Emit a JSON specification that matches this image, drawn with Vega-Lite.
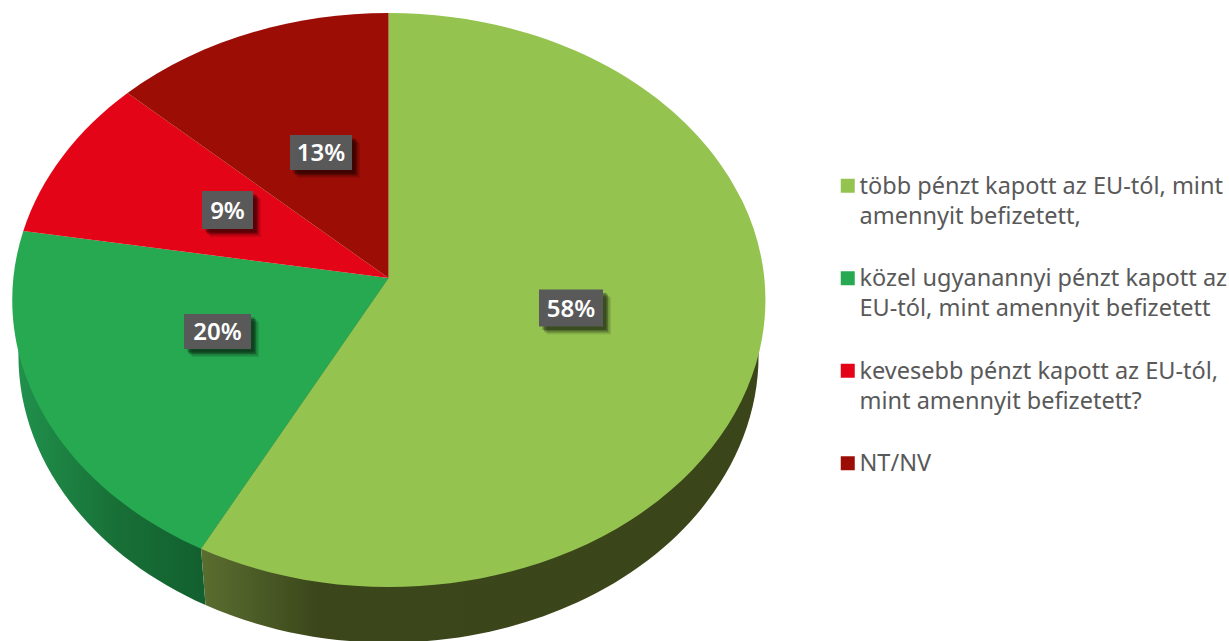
{
"$schema":"https://vega.github.io/schema/vega-lite/v6.json",
"width":1229,"height":641,"padding":0,"autosize":{"type":"none"},
"background":"white",
"view":{"stroke":null},
"datasets":{"answers":[
{"answer":"több pénzt kapott az EU-tól, mint|amennyit befizetett,","share":58,"label":"58%","centerX":0,"centerY":0,"labelX":182.5,"labelY":-8},
{"answer":"közel ugyanannyi pénzt kapott az|EU-tól, mint amennyit befizetett","share":20,"label":"20%","centerX":0,"centerY":0,"labelX":-171,"labelY":-31.5},
{"answer":"kevesebb pénzt kapott az EU-tól,|mint amennyit befizetett?","share":9,"label":"9%","centerX":0,"centerY":0,"labelX":-161,"labelY":90},
{"answer":"NT/NV","share":13,"label":"13%","centerX":0,"centerY":0,"labelX":-67.5,"labelY":147.5}
]},
"data":{"name":"answers"},
"resolve":{"scale":{"shape":"independent"}},
"layer":[
{"transform":[{"filter":"datum.share==20"}],
 "mark":{"type":"point","filled":true,"opacity":1,"size":4,"clip":false,"shape":"M-370,50 A370 287 0 0 0 -183,305 L-187.5,248 L0,-22 Z",
 "fill":{"gradient":"linear","x1":0,"x2":1,"y1":0,"y2":0,"stops":[{"offset":0,"color":"#20914c"},{"offset":0.27,"color":"#186f36"},{"offset":0.5,"color":"#12602f"},{"offset":1,"color":"#12602f"}]}},
 "encoding":{"x":{"field":"centerX","type":"quantitative","scale":{"domain":[-388.5,840.5],"zero":false,"nice":false},"axis":null},
 "y":{"field":"centerY","type":"quantitative","scale":{"domain":[-341,300],"zero":false,"nice":false},"axis":null}}},
{"transform":[{"filter":"datum.share==58"}],
 "mark":{"type":"point","filled":true,"opacity":1,"size":4,"clip":false,"shape":"M-187.5,248 L-183,305 A370 287 0 0 0 370,50 L0,-22 Z",
 "fill":{"gradient":"linear","x1":0,"x2":1,"y1":0,"y2":0,"stops":[{"offset":0,"color":"#5a6e30"},{"offset":0.21,"color":"#3b471b"},{"offset":1,"color":"#3a461a"}]}},
 "encoding":{"x":{"field":"centerX","type":"quantitative"},"y":{"field":"centerY","type":"quantitative"}}},
{"mark":{"type":"point","filled":true,"opacity":1,"size":4,"clip":false},
 "encoding":{"x":{"field":"centerX","type":"quantitative"},"y":{"field":"centerY","type":"quantitative"},
 "shape":{"field":"answer","type":"nominal","legend":null,"sort":null,"scale":{"domain":["több pénzt kapott az EU-tól, mint|amennyit befizetett,","közel ugyanannyi pénzt kapott az|EU-tól, mint amennyit befizetett","kevesebb pénzt kapott az EU-tól,|mint amennyit befizetett?","NT/NV"],"range":["M0,-22 L0,-287 A376.5 287 0 1 1 -187.5,248.7 Z","M0,-22 L-187.5,248.7 A376.5 287 0 0 1 -365.2,-69 Z","M0,-22 L-365.2,-69 A376.5 287 0 0 1 -261,-207 Z","M0,-22 L-261,-207 A376.5 287 0 0 1 0,-287 Z"]}},
 "color":{"field":"answer","type":"nominal","sort":null,"scale":{"domain":["több pénzt kapott az EU-tól, mint|amennyit befizetett,","közel ugyanannyi pénzt kapott az|EU-tól, mint amennyit befizetett","kevesebb pénzt kapott az EU-tól,|mint amennyit befizetett?","NT/NV"],"range":["#95C350","#26A950","#E30517","#9C0D05"]},
 "legend":{"title":null,"orient":"none","legendX":836,"legendY":174,"padding":0,"symbolType":"square","symbolSize":196,"symbolStrokeWidth":0,"symbolOpacity":1,"labelFont":"Noto Sans","labelFontSize":23.5,"labelColor":"#595959","labelOffset":0,"labelLimit":400,"rowPadding":37.5,"labelBaseline":"alphabetic","labelExpr":"split(datum.label,'|')","encode":{"labels":{"update":{"dy":{"value":8},"lineHeight":{"value":30}}}}}}}},
{"mark":{"type":"point","filled":true,"opacity":0.1,"size":4,"clip":false,"color":"black","xOffset":8,"yOffset":8},
 "encoding":{"x":{"field":"labelX","type":"quantitative"},"y":{"field":"labelY","type":"quantitative"},
 "shape":{"field":"label","type":"nominal","legend":null,"scale":{"domain":["58%","20%","9%","13%"],"range":["M-32,-18.5 H32 V18.5 H-32 Z","M-33.5,-17.5 H33.5 V17.5 H-33.5 Z","M-25.5,-19 H25.5 V19 H-25.5 Z","M-31,-17.5 H31 V17.5 H-31 Z"]}}}},
{"mark":{"type":"point","filled":true,"opacity":0.15,"size":4,"clip":false,"color":"black","xOffset":6.5,"yOffset":6.5},
 "encoding":{"x":{"field":"labelX","type":"quantitative"},"y":{"field":"labelY","type":"quantitative"},
 "shape":{"field":"label","type":"nominal","legend":null,"scale":{"domain":["58%","20%","9%","13%"],"range":["M-32,-18.5 H32 V18.5 H-32 Z","M-33.5,-17.5 H33.5 V17.5 H-33.5 Z","M-25.5,-19 H25.5 V19 H-25.5 Z","M-31,-17.5 H31 V17.5 H-31 Z"]}}}},
{"mark":{"type":"point","filled":true,"opacity":0.25,"size":4,"clip":false,"color":"black","xOffset":5,"yOffset":5},
 "encoding":{"x":{"field":"labelX","type":"quantitative"},"y":{"field":"labelY","type":"quantitative"},
 "shape":{"field":"label","type":"nominal","legend":null,"scale":{"domain":["58%","20%","9%","13%"],"range":["M-32,-18.5 H32 V18.5 H-32 Z","M-33.5,-17.5 H33.5 V17.5 H-33.5 Z","M-25.5,-19 H25.5 V19 H-25.5 Z","M-31,-17.5 H31 V17.5 H-31 Z"]}}}},
{"mark":{"type":"point","filled":true,"opacity":0.3,"size":4,"clip":false,"color":"black","xOffset":3.5,"yOffset":3.5},
 "encoding":{"x":{"field":"labelX","type":"quantitative"},"y":{"field":"labelY","type":"quantitative"},
 "shape":{"field":"label","type":"nominal","legend":null,"scale":{"domain":["58%","20%","9%","13%"],"range":["M-32,-18.5 H32 V18.5 H-32 Z","M-33.5,-17.5 H33.5 V17.5 H-33.5 Z","M-25.5,-19 H25.5 V19 H-25.5 Z","M-31,-17.5 H31 V17.5 H-31 Z"]}}}},
{"mark":{"type":"point","filled":true,"opacity":1,"size":4,"clip":false,"color":"#595959"},
 "encoding":{"x":{"field":"labelX","type":"quantitative"},"y":{"field":"labelY","type":"quantitative"},
 "shape":{"field":"label","type":"nominal","legend":null,"scale":{"domain":["58%","20%","9%","13%"],"range":["M-32,-18.5 H32 V18.5 H-32 Z","M-33.5,-17.5 H33.5 V17.5 H-33.5 Z","M-25.5,-19 H25.5 V19 H-25.5 Z","M-31,-17.5 H31 V17.5 H-31 Z"]}}}},
{"mark":{"type":"text","font":"Noto Sans","fontSize":24,"fontWeight":600,"color":"white","align":"center","baseline":"middle","dy":1.5},
 "encoding":{"x":{"field":"labelX","type":"quantitative"},"y":{"field":"labelY","type":"quantitative"},"text":{"field":"label","type":"nominal"}}}
]
}
